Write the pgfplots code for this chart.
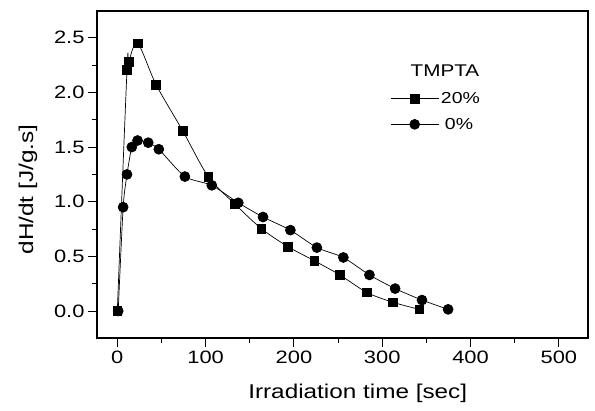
\documentclass[border=0pt]{standalone}
\usepackage{fontspec}
\setmainfont{Liberation Sans}[FakeStretch=1.22]
\usepackage{pgfplots}
\pgfplotsset{compat=1.18}

\begin{document}
\begin{tikzpicture}
\begin{axis}[
  scale only axis,
  width=491bp, height=327bp,
  xmin=-23, xmax=533,
  ymin=-0.247, ymax=2.745,
  xtick={0,100,...,500},
  minor xtick={50,150,...,550},
  ytick={0,0.5,...,2.5},
  minor ytick={-0.25,0.25,0.75,...,2.75},
  xtick pos=left, ytick pos=left,
  tick align=outside,
  major tick length=9bp, minor tick length=5bp,
  every tick/.style={black, line width=0.9pt},
  axis line style={line width=1.2pt},
  yticklabel style={/pgf/number format/.cd, fixed, fixed zerofill, precision=1},
  /pgf/number format/assume math mode=true,
  tick label style={font=\fontsize{18}{21}\selectfont},
  label style={font=\fontsize{20}{24}\selectfont},
  xlabel={Irradiation time [sec]},
  ylabel={dH/dt [J/g.s]},
  xlabel style={at={(rel axis cs:0.531,-0.168)}, anchor=center},
  ylabel style={at={(rel axis cs:-0.1405,0.454)}, anchor=center},
  legend style={draw=none, fill=none, font=\fontsize{16}{19}\selectfont,
    at={(axis cs:309,2.02)}, anchor=north west, row sep=9bp, inner sep=0pt},
  legend cell align={left},
  legend image code/.code={
    \draw[mark repeat=2, mark phase=2, line width=0.6pt]
      plot coordinates {(0bp,0bp) (24bp,0bp) (48bp,0bp)};
  },
]
\coordinate (ll) at (rel axis cs:0,0);
\coordinate (ur) at (rel axis cs:1,1);

\addplot[black, line width=0.7pt, smooth, tension=0.5, mark=square*, mark size=4.4pt,
  mark options={solid}] coordinates {
(0,0) (11,2.21) (13,2.28) (23,2.45) (44,2.07) (74,1.65) (103,1.23) (133,0.98)
(163,0.755) (193,0.59) (223,0.46) (252,0.33) (282.5,0.17) (312,0.08) (342,0.015)
};
\addlegendentry{20\%}

\addplot[black, line width=0.7pt, smooth, tension=0.4, mark=*, mark size=5pt]
coordinates {
(1,0) (6.6,0.95) (11,1.25) (16.4,1.50) (22.9,1.56) (35,1.54) (47,1.48) (76.5,1.23)
(107,1.15) (137,0.99) (165,0.86) (196,0.74) (226,0.58) (256,0.49) (285.5,0.33)
(314.6,0.205) (345,0.10) (374.6,0.015)
};
\addlegendentry{\hspace{4bp}0\%}

\node[font=\fontsize{17}{20}\selectfont, anchor=center] at (axis cs:371,2.20) {TMPTA};
\end{axis}
\pgfresetboundingbox
\path ([shift={(-97bp,-73bp)}]ll) rectangle ([shift={(7bp,11bp)}]ur);
\end{tikzpicture}
\end{document}
